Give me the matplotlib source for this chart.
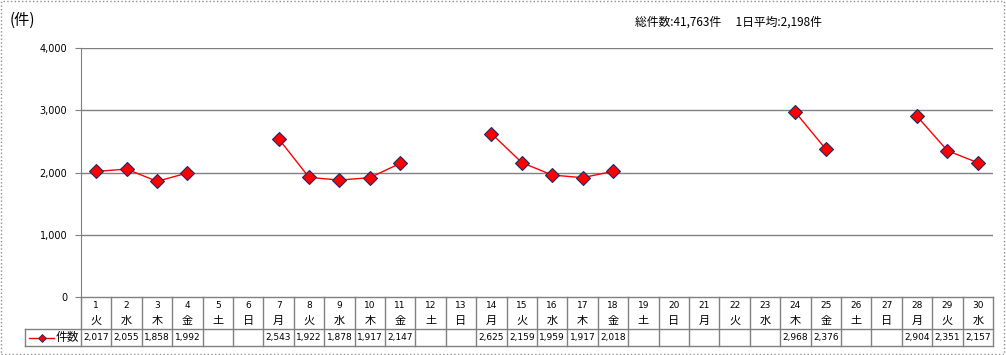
import numpy as np
import matplotlib.pyplot as plt
from matplotlib.patches import Rectangle

plt.rcParams['font.family'] = ['Noto Sans CJK JP', 'DejaVu Sans']

days = list(range(1, 31))
weekdays = ['火', '水', '木', '金', '土', '日', '月',
            '火', '水', '木', '金', '土', '日', '月',
            '火', '水', '木', '金', '土', '日', '月',
            '火', '水', '木', '金', '土', '日', '月',
            '火', '水']
counts = [2017, 2055, 1858, 1992, None, None, 2543,
          1922, 1878, 1917, 2147, None, None, 2625,
          2159, 1959, 1917, 2018, None, None, None,
          None, None, 2968, 2376, None, None, 2904,
          2351, 2157]
series_name = '件数'
total_text = '総件数:41,763件　 1日平均:2,198件'

W, H = 1006, 355
fig = plt.figure(figsize=(W / 100, H / 100), dpi=100)

left, right, top, bottom = 81, 993, 48, 297
ax = fig.add_axes([left / W, 1 - bottom / H, (right - left) / W, (bottom - top) / H])

x = np.arange(len(days))
y = np.array([np.nan if v is None else v for v in counts], dtype=float)

grid_col = '#808080'
for g in [1000, 2000, 3000, 4000]:
    ax.axhline(g, color=grid_col, lw=1, zorder=1)

ax.plot(x, y, color='#ff0000', lw=1, marker='D', ms=7.5,
        markerfacecolor='#ff0000', markeredgecolor='#1f2a6b', markeredgewidth=0.8, zorder=3)

ax.set_xlim(-0.5, len(days) - 0.5)
ax.set_ylim(0, 4000)
ax.set_yticks([0, 1000, 2000, 3000, 4000])
ax.set_yticklabels(['{:,}'.format(v) for v in [0, 1000, 2000, 3000, 4000]], fontsize=7,
                   family=['DejaVu Sans'])
ax.tick_params(axis='y', length=4, color=grid_col, pad=6)
ax.set_xticks([])
for s in ['top', 'right', 'bottom']:
    ax.spines[s].set_visible(False)
ax.spines['left'].set_color(grid_col)

# data table under the chart
ph = bottom - top
def fy(py):
    return 1 - (py - top) / ph

tr = ax.get_xaxis_transform()
row_top, row_mid, row_bot = 297, 329, 346
tab_left = -0.5 - (left - 25) / ((right - left) / len(days))
line_kw = dict(color=grid_col, lw=1, transform=tr, clip_on=False)
ax.plot([-0.5, len(days) - 0.5], [fy(row_top)] * 2, **line_kw)
ax.plot([tab_left, len(days) - 0.5], [fy(row_mid)] * 2, **line_kw)
ax.plot([tab_left, len(days) - 0.5], [fy(row_bot)] * 2, **line_kw)
ax.plot([tab_left, tab_left], [fy(row_mid), fy(row_bot)], **line_kw)
for i in range(len(days) + 1):
    ax.plot([i - 0.5, i - 0.5], [fy(row_top), fy(row_bot)], **line_kw)

for i, (d, wd, v) in enumerate(zip(days, weekdays, counts)):
    ax.text(i, fy(305), str(d), ha='center', va='center', fontsize=6.5, transform=tr,
            family=['DejaVu Sans'])
    ax.text(i, fy(321), wd, ha='center', va='center', fontsize=8, transform=tr)
    if v is not None:
        ax.text(i, fy(337.5), '{:,}'.format(v), ha='center', va='center', fontsize=6.5,
                transform=tr, family=['DejaVu Sans'])

# legend key in table
lx0 = tab_left + 0.12
lx1 = lx0 + 0.85
ax.plot([lx0, lx1], [fy(337.5)] * 2, color='#ff0000', lw=1, transform=tr, clip_on=False)
ax.plot([(lx0 + lx1) / 2], [fy(337.5)], marker='D', ms=4, color='#ff0000',
        markeredgecolor='#1f2a6b', markeredgewidth=0.6, transform=tr, clip_on=False)
ax.text(lx1 + 0.03, fy(337.5), series_name, ha='left', va='center', fontsize=8.5, transform=tr)

fig.text(10 / W, 1 - 20 / H, '(件)', ha='left', va='center', fontsize=11)
fig.text(635 / W, 1 - 22 / H, total_text, ha='left', va='center', fontsize=8.5)

fig.patches.append(Rectangle((0.001, 0.002), 0.997, 0.995, transform=fig.transFigure,
                             fill=False, edgecolor='#909090', lw=1, linestyle=':'))

fig.savefig('out.png', dpi=100)
